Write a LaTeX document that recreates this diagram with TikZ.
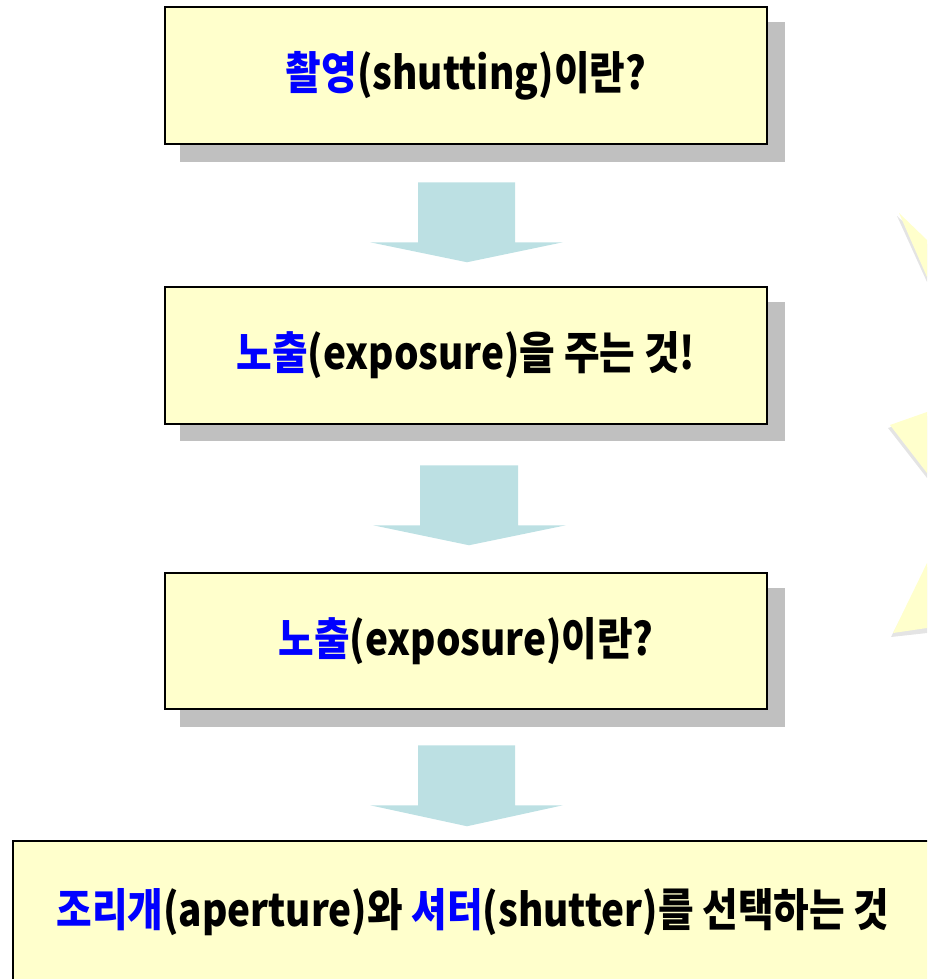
\documentclass[tikz,border=0pt]{standalone}
\usepackage{fontspec}
\setmainfont{Noto Sans CJK KR}
\newfontfamily\boxfont{Noto Sans CJK KR}[FakeStretch=0.86]
\usetikzlibrary{calc}
\definecolor{boxyellow}{HTML}{FFFFCC}
\definecolor{shadowgray}{HTML}{C0C0C0}
\definecolor{flowcyan}{HTML}{BCE0E3}
\definecolor{kblue}{HTML}{0000FF}
\definecolor{starshadow}{HTML}{E4E4E4}
\begin{document}
\begin{tikzpicture}[x=1pt,y=-1pt,
  box/.style={draw=black, line width=2.5pt, fill=boxyellow, inner sep=0pt,
    font=\boxfont\fontsize{45}{50}\selectfont\bfseries},
  boxshadow/.style={fill=shadowgray},
  flow/.style={fill=flowcyan},
  star/.style={fill=boxyellow},
  starshade/.style={fill=starshadow}]
\useasboundingbox (0,0) rectangle (927,979);
\clip (0,0) rectangle (927,979);
% star spikes on the right edge
\fill[starshade] (897,216) -- (927,244) -- (927,282) -- cycle;
\fill[star] (899,213) -- (927,240) -- (927,277) -- cycle;
\fill[starshade] (888,428) -- (927,416) -- (927,478) -- cycle;
\fill[star] (890,425) -- (927,412) -- (927,473) -- cycle;
\fill[starshade] (927,567) -- (891,637) -- (927,633) -- cycle;
\fill[star] (927,563) -- (893,633) -- (927,628) -- cycle;
% box shadows
\fill[boxshadow] (180,22) rectangle (785,162);
\fill[boxshadow] (180,302) rectangle (785,441);
\fill[boxshadow] (180,588) rectangle (785,727);
% boxes
\node[box, minimum width=602pt, minimum height=137pt] (b1) at (466,75.5)
  {\textcolor{kblue}{촬영}(shutting)이란?};
\node[box, minimum width=602pt, minimum height=137pt] (b2) at (466,355.5)
  {\textcolor{kblue}{노출}(exposure)을 주는 것!};
\node[box, minimum width=602pt, minimum height=136pt] (b3) at (466,641)
  {\textcolor{kblue}{노출}(exposure)이란?};
\node[box, minimum width=920pt, minimum height=142pt] (b4) at (473,912)
  {\textcolor{kblue}{조리개}(aperture)와 \textcolor{kblue}{셔터}(shutter)를 선택하는 것};
% block arrows
\fill[flow] ($(b1.south)+(-48,37)$) -- ($(b1.south)+(49,37)$) -- ($(b1.south)+(49,97)$)
  -- ($(b1.south)+(97,97)$) -- ($(b1.south)+(1,117)$) -- ($(b1.south)+(-96,97)$)
  -- ($(b1.south)+(-48,97)$) -- cycle;
\fill[flow] ($(b2.south)+(-46,40)$) -- ($(b2.south)+(52,40)$) -- ($(b2.south)+(52,100)$)
  -- ($(b2.south)+(100,100)$) -- ($(b2.south)+(3,120)$) -- ($(b2.south)+(-93,100)$)
  -- ($(b2.south)+(-46,100)$) -- cycle;
\fill[flow] ($(b3.south)+(-48,35)$) -- ($(b3.south)+(49,35)$) -- ($(b3.south)+(49,95)$)
  -- ($(b3.south)+(97,95)$) -- ($(b3.south)+(1,116)$) -- ($(b3.south)+(-96,95)$)
  -- ($(b3.south)+(-48,95)$) -- cycle;
\end{tikzpicture}
\end{document}
